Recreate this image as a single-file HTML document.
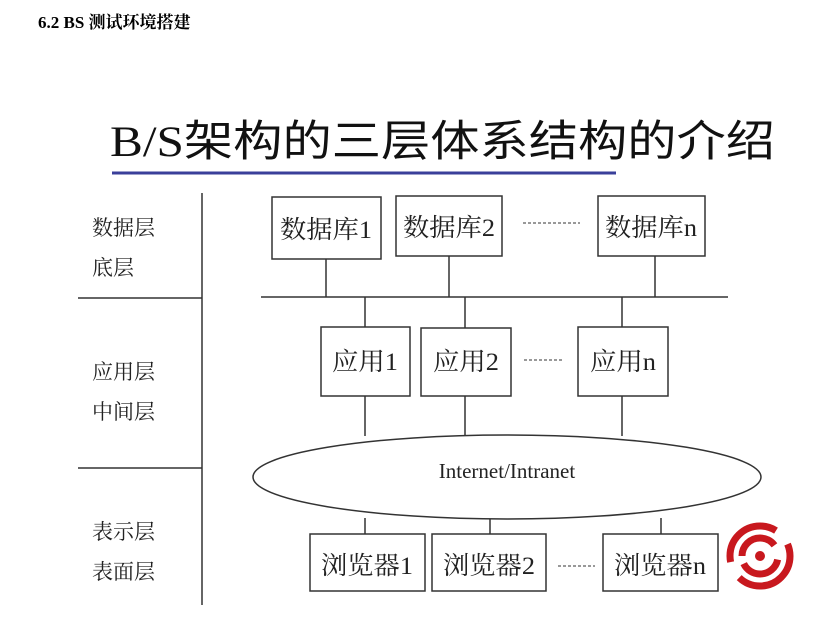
<!DOCTYPE html>
<html><head><meta charset="utf-8"><style>
body{margin:0;background:#fff;width:835px;height:623px;overflow:hidden;position:relative;font-family:"Liberation Serif","Noto Serif CJK SC",serif}
</style></head><body>
<svg width="835" height="623" style="position:absolute;left:0;top:0" font-family="Liberation Serif, Noto Serif CJK SC, serif">
<text x="38" y="28" font-size="17" font-weight="bold" fill="#000">6.2 BS 测试环境搭建</text>
<text x="110" y="156" font-size="43" fill="#111" font-family="Liberation Serif, Noto Sans CJK SC, sans-serif" textLength="665" lengthAdjust="spacingAndGlyphs">B/S架构的三层体系结构的介绍</text>
<line x1="112" y1="173" x2="616" y2="173" stroke="#3a3f9a" stroke-width="3"/>
<g stroke="#333" stroke-width="1.5" fill="none">
<line x1="202" y1="193" x2="202" y2="605"/>
<line x1="78" y1="298" x2="202" y2="298"/>
<line x1="78" y1="468" x2="202" y2="468"/>
<line x1="261" y1="297" x2="728" y2="297"/>
<line x1="326" y1="259" x2="326" y2="297"/><line x1="449" y1="256" x2="449" y2="297"/><line x1="655" y1="256" x2="655" y2="297"/>
<line x1="365" y1="297" x2="365" y2="436"/><line x1="465" y1="297" x2="465" y2="436"/><line x1="622" y1="297" x2="622" y2="436"/>
<line x1="365" y1="518" x2="365" y2="534"/><line x1="490" y1="519" x2="490" y2="534"/><line x1="661" y1="518" x2="661" y2="534"/>
<rect x="272" y="197" width="109" height="62" fill="#fff"/>
<rect x="396" y="196" width="106" height="60" fill="#fff"/>
<rect x="598" y="196" width="107" height="60" fill="#fff"/>
<rect x="321" y="327" width="89" height="69" fill="#fff"/>
<rect x="421" y="328" width="90" height="68" fill="#fff"/>
<rect x="578" y="327" width="90" height="69" fill="#fff"/>
<ellipse cx="507" cy="477" rx="254" ry="42" fill="#fff"/>
<rect x="310" y="534" width="115" height="57" fill="#fff"/>
<rect x="432" y="534" width="114" height="57" fill="#fff"/>
<rect x="603" y="534" width="115" height="57" fill="#fff"/>
<line x1="523" y1="223" x2="580" y2="223" stroke-dasharray="3,2" stroke-width="1"/>
<line x1="524" y1="360" x2="562" y2="360" stroke-dasharray="3,2" stroke-width="1"/>
<line x1="558" y1="566" x2="595" y2="566" stroke-dasharray="3,2" stroke-width="1"/>
</g>
<g font-size="21" fill="#222">
<text x="92" y="235">数据层</text><text x="92" y="275">底层</text>
<text x="92" y="379">应用层</text><text x="92" y="419">中间层</text>
<text x="92" y="539">表示层</text><text x="92" y="579">表面层</text>
</g>
<g font-size="25" fill="#222" text-anchor="middle">
<text x="326" y="238" textLength="92" lengthAdjust="spacingAndGlyphs">数据库1</text><text x="449" y="236" textLength="92" lengthAdjust="spacingAndGlyphs">数据库2</text><text x="651" y="236" textLength="92" lengthAdjust="spacingAndGlyphs">数据库n</text>
<text x="365" y="370" textLength="66" lengthAdjust="spacingAndGlyphs">应用1</text><text x="466" y="370" textLength="66" lengthAdjust="spacingAndGlyphs">应用2</text><text x="623" y="370" textLength="66" lengthAdjust="spacingAndGlyphs">应用n</text>
<text x="507" y="478" font-size="21">Internet/Intranet</text>
<text x="367" y="574" textLength="92" lengthAdjust="spacingAndGlyphs">浏览器1</text><text x="489" y="574" textLength="92" lengthAdjust="spacingAndGlyphs">浏览器2</text><text x="660" y="574" textLength="92" lengthAdjust="spacingAndGlyphs">浏览器n</text>
</g>
<g fill="none" stroke="#c8181e">
<circle cx="760" cy="556" r="30" stroke-width="7" stroke-dasharray="70,18"/>
<circle cx="760" cy="556" r="18" stroke-width="7" stroke-dasharray="45,15" transform="rotate(180 760 556)"/>
</g>
<circle cx="760" cy="556" r="5" fill="#c8181e"/>
</svg>
</body></html>
